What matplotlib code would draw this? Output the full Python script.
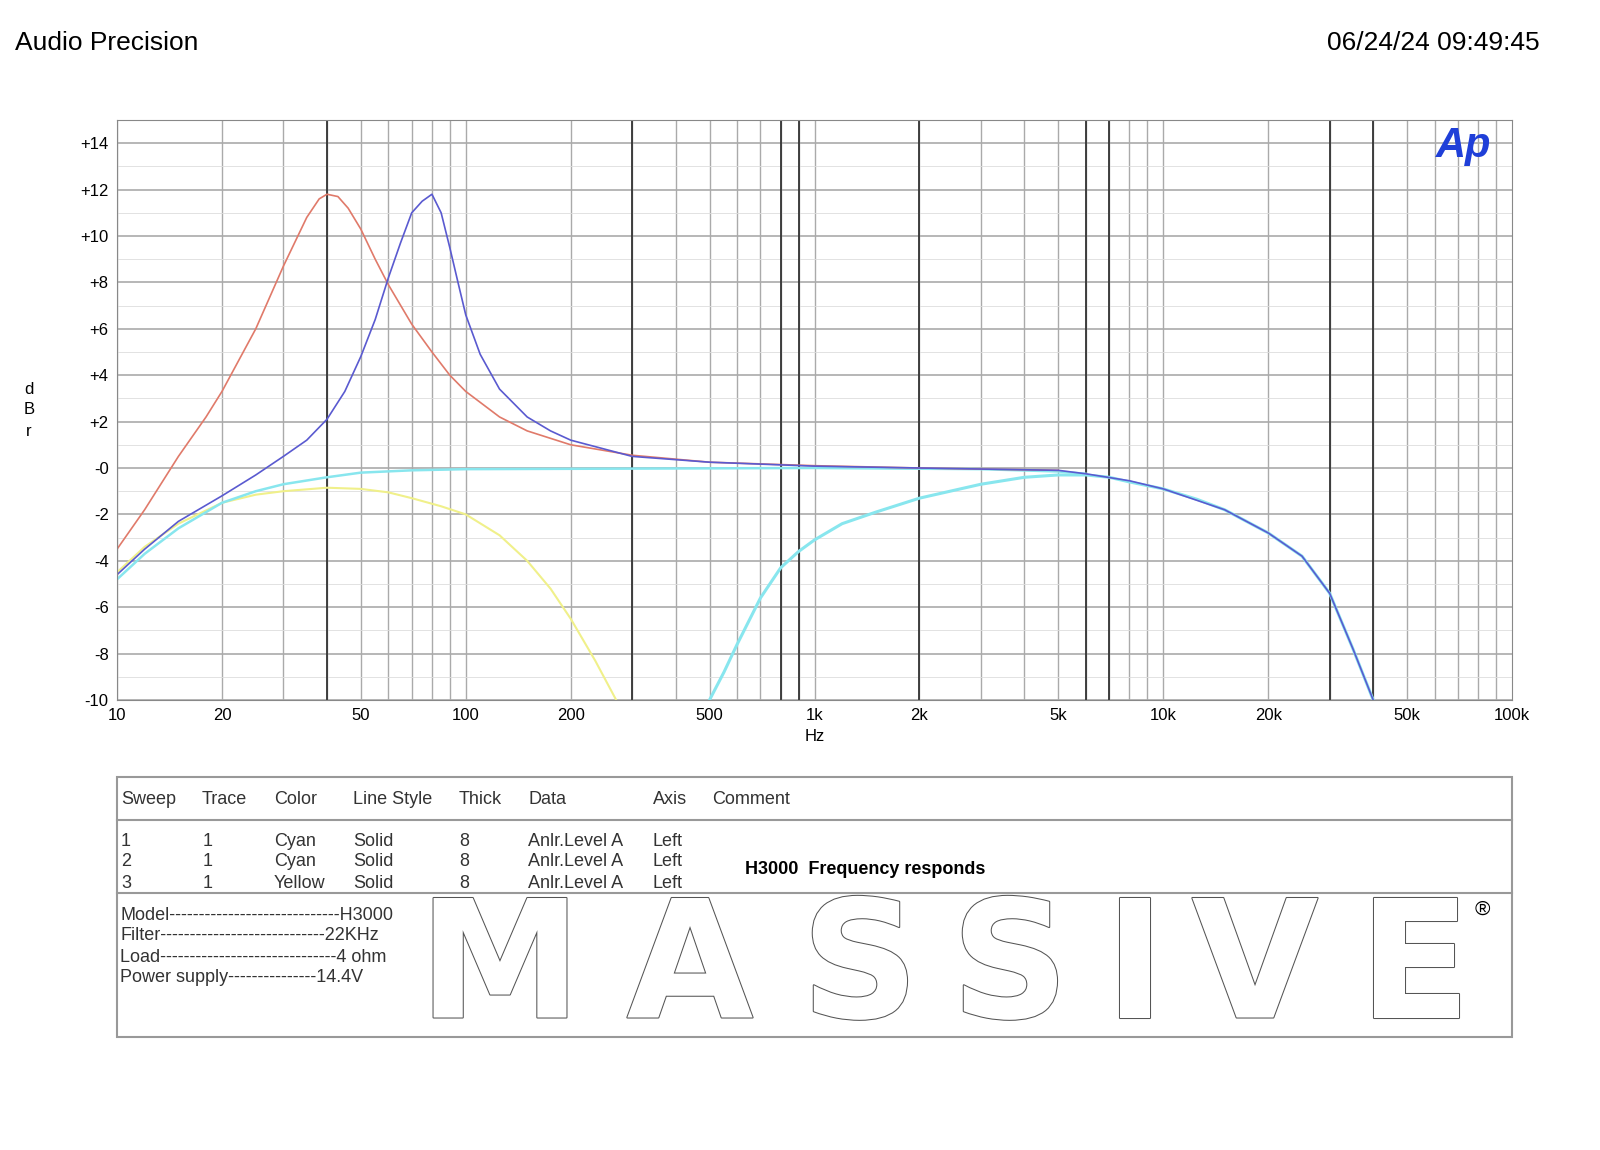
import matplotlib
matplotlib.use("Agg")
import matplotlib.pyplot as plt
import matplotlib.patheffects as pe
import numpy as np

red_f = [10,12,15,18,20,25,30,35,38,40,43,46,50,55,60,70,80,90,100,125,150,200,300,500,1000,2000,5000]
red_v = [-3.5,-1.8,0.5,2.2,3.3,6.0,8.7,10.8,11.6,11.8,11.7,11.2,10.3,9.0,7.9,6.2,5.0,4.0,3.3,2.2,1.6,1.0,0.55,0.25,0.1,0.0,-0.1]
blue_f = [10,12,15,20,25,30,35,40,45,50,55,60,65,70,75,80,85,90,95,100,110,125,150,175,200,300,500,1000,2000,5000,6000,8000,10000,15000,20000,25000,30000,35000,40000]
blue_v = [-4.6,-3.5,-2.3,-1.2,-0.3,0.5,1.2,2.1,3.3,4.8,6.4,8.2,9.7,11.0,11.5,11.8,11.0,9.5,8.0,6.6,4.9,3.4,2.2,1.6,1.2,0.5,0.25,0.08,0.0,-0.1,-0.25,-0.55,-0.9,-1.8,-2.8,-3.8,-5.4,-7.8,-10]
cyan1_f = [10,12,15,20,25,30,40,50,70,100,1000,3000,5000,6000]
cyan1_v = [-4.8,-3.7,-2.6,-1.5,-1.0,-0.7,-0.4,-0.2,-0.1,-0.05,0.0,-0.05,-0.15,-0.25]
cyan2_f = [500,550,600,700,800,900,1000,1200,1500,2000,3000,4000,5000,6000,7000,8000,10000,12500,15000,20000,25000,30000,35000,40000]
cyan2_v = [-10,-8.8,-7.6,-5.6,-4.3,-3.6,-3.1,-2.4,-1.9,-1.3,-0.7,-0.4,-0.3,-0.3,-0.4,-0.6,-0.9,-1.35,-1.8,-2.8,-3.8,-5.4,-7.8,-10]
yel_f = [10,12,15,20,25,30,40,50,60,70,85,100,125,150,175,200,235,270]
yel_v = [-4.5,-3.4,-2.4,-1.5,-1.15,-1.0,-0.85,-0.9,-1.05,-1.3,-1.65,-2.0,-2.9,-4.0,-5.2,-6.5,-8.3,-10]
dark_lines = [40,300,800,900,2000,6000,7000,30000,40000]
yticks = list(range(-10,15,2))
ylabels = ['-10','-8','-6','-4','-2','-0','+2','+4','+6','+8','+10','+12','+14']
xticks = [10,20,50,100,200,500,1000,2000,5000,10000,20000,50000,100000]
xlabels = ['10','20','50','100','200','500','1k','2k','5k','10k','20k','50k','100k']

plt.rcParams['font.family'] = ['Liberation Sans','DejaVu Sans']
fig = plt.figure(figsize=(16,11.5), dpi=100)
ax = fig.add_axes([117/1600, 1-700/1150, 1395/1600, 580/1150])
ax.set_xscale('log'); ax.set_xlim(10,100000); ax.set_ylim(-10,15)
for d in range(1,5):
    for m in range(1,10):
        f = m*10**d
        if f < 100000:
            ax.axvline(f, color='#aaaaaa', lw=1, zorder=0)
for y in range(-10,16):
    ax.axhline(y, color='#aaaaaa' if y%2==0 else '#dddddd', lw=1.2 if y%2==0 else 0.6, zorder=0)
for f in dark_lines:
    ax.axvline(f, color='#333333', lw=1.3, zorder=0.5)
ax.plot(yel_f, yel_v, color='#f0f08a', lw=1.5)
ax.plot(cyan1_f, cyan1_v, color='#88e6ee', lw=1.8)
ax.plot(cyan2_f, cyan2_v, color='#88e6ee', lw=2.2)
ax.plot(red_f, red_v, color='#e07a6a', lw=1.2)
ax.plot(blue_f, blue_v, color='#5a5ad0', lw=1.2)
ax.set_yticks(yticks); ax.set_yticklabels(ylabels, fontsize=12)
ax.set_xticks(xticks); ax.set_xticklabels(xlabels, fontsize=12)
ax.xaxis.set_minor_locator(matplotlib.ticker.NullLocator())
ax.tick_params(length=0, pad=6)
for s in ax.spines.values(): s.set_color('#888888')
ax.set_xlabel('Hz', fontsize=12, labelpad=4)
ax.text(0.965, 0.955, 'Ap', transform=ax.transAxes, color='#1f3fd8', fontsize=30,
        fontweight='bold', style='italic', ha='center', va='center')

fig.text(15/1600, 1-43/1150, 'Audio Precision', fontsize=19, va='center')
fig.text(1540/1600, 1-43/1150, '06/24/24 09:49:45', fontsize=19, va='center', ha='right')
for i, ch in enumerate('dBr'):
    fig.text(29/1600, 1-(389+21*i)/1150, ch, fontsize=12, ha='center', va='center')

ov = fig.add_axes([0,0,1,1]); ov.set_xlim(0,1600); ov.set_ylim(1150,0); ov.axis('off')
ov.add_patch(plt.Rectangle((117,777),1395,260, fill=False, ec='#999999', lw=1.5))
ov.plot([117,1512],[820,820], color='#999999', lw=1.5)
ov.plot([117,1512],[893,893], color='#999999', lw=1.5)
hdr = [('Sweep',121),('Trace',202),('Color',274),('Line Style',353),('Thick',459),('Data',528),('Axis',653),('Comment',712)]
for t,x in hdr:
    ov.text(x, 799, t, fontsize=13, va='center', color='#333333')
rows = [('1','1','Cyan','Solid','8','Anlr.Level A','Left'),
        ('2','1','Cyan','Solid','8','Anlr.Level A','Left'),
        ('3','1','Yellow','Solid','8','Anlr.Level A','Left')]
xs = [121,203,274,353,459,528,653]
for r,row in enumerate(rows):
    for t,x in zip(row,xs):
        ov.text(x, 841+21*r, t, fontsize=13, va='center', color='#333333')
ov.text(745, 870, 'H3000  Frequency responds', fontsize=13, fontweight='bold', va='center')
info = ['Model-----------------------------H3000','Filter----------------------------22KHz',
        'Load------------------------------4 ohm','Power supply---------------14.4V']
for i,t in enumerate(info):
    ov.text(120, 915+21*i, t, fontsize=13, va='center', color='#333333')
letters = 'MASSIVE'
lx = [500, 690, 860, 1010, 1135, 1255, 1415]
for ch, x in zip(letters, lx):
    ov.text(x, 972, ch, fontsize=118, fontweight='bold', ha='center', va='center', color='white',
            family='DejaVu Sans', path_effects=[pe.Stroke(linewidth=1.5, foreground='#555555'), pe.Normal()])
ov.text(1482, 909, '®', fontsize=15, ha='center', va='center')
fig.savefig('out.png', dpi=100)
